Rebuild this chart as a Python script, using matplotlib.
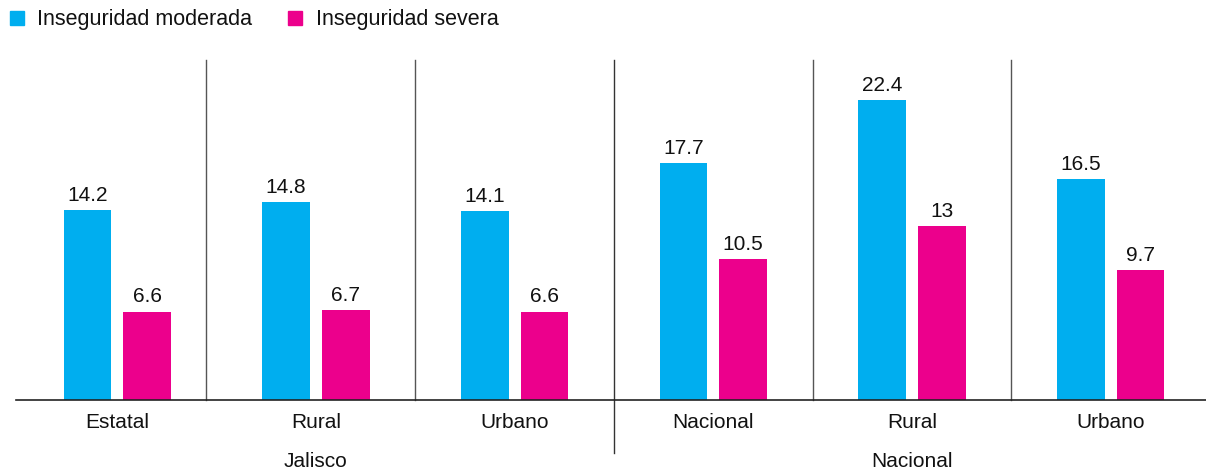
import matplotlib.pyplot as plt
import matplotlib.patches as mpatches
import numpy as np

plt.rcParams['font.family'] = ['Liberation Sans', 'DejaVu Sans']

# Data
categories = ['Estatal', 'Rural', 'Urbano', 'Nacional', 'Rural', 'Urbano']
moderada = [14.2, 14.8, 14.1, 17.7, 22.4, 16.5]
severa = [6.6, 6.7, 6.6, 10.5, 13, 9.7]
groups = ['Jalisco', 'Nacional']
series_names = ['Inseguridad moderada', 'Inseguridad severa']

c_mod = '#00AEEF'
c_sev = '#EC008C'

fig = plt.figure(figsize=(12.06, 4.74), dpi=100)
ax = fig.add_axes([16/1206, 74/474, 1 - 16/1206, 340/474])

x = np.arange(len(categories))
width = 0.24
off = 0.15

b1 = ax.bar(x - off, moderada, width, color=c_mod)
b2 = ax.bar(x + off, severa, width, color=c_sev)

for bars, vals in [(b1, moderada), (b2, severa)]:
    for bar, v in zip(bars, vals):
        ax.text(bar.get_x() + bar.get_width()/2, bar.get_height() + 0.4,
                f'{v:g}', ha='center', va='bottom', fontsize=15, color='#111111')

ax.set_xlim(-0.51, 5.48)
ax.set_ylim(0, 25.4)

# separators between groups
for i in range(len(categories) - 1):
    xs = i + 0.5
    if i == 0:
        xs = 0.445
    if i == 2:
        ax.plot([xs, xs], [-0.155, 1], transform=ax.get_xaxis_transform(), color='#333333',
                lw=1, clip_on=False)
    else:
        ax.plot([xs, xs], [0, 1], transform=ax.get_xaxis_transform(), color='#555555',
                lw=1, clip_on=False)

ax.axhline(0, color='#222222', lw=1.2, clip_on=False)

for s in ax.spines.values():
    s.set_visible(False)
ax.set_yticks([])
ax.set_xticks(x)
ax.set_xticklabels(categories, fontsize=15, color='#111111')
ax.tick_params(axis='x', length=0, pad=9)

# group labels
for gi, g in enumerate(groups):
    ax.text(1 + gi*3, -0.18, g, transform=ax.get_xaxis_transform(),
            ha='center', va='center', fontsize=15, color='#111111')

# legend
fig.patches.append(mpatches.Rectangle((10/1206, 1 - 25/474), 14/1206, 14/474,
                                      transform=fig.transFigure, color=c_mod))
fig.text(37/1206, 1 - 19/474, series_names[0], va='center', ha='left', fontsize=15.5, color='#111111')
fig.patches.append(mpatches.Rectangle((288/1206, 1 - 25/474), 14/1206, 14/474,
                                      transform=fig.transFigure, color=c_sev))
fig.text(316/1206, 1 - 19/474, series_names[1], va='center', ha='left', fontsize=15.5, color='#111111')

plt.savefig('out.png', dpi=100)
